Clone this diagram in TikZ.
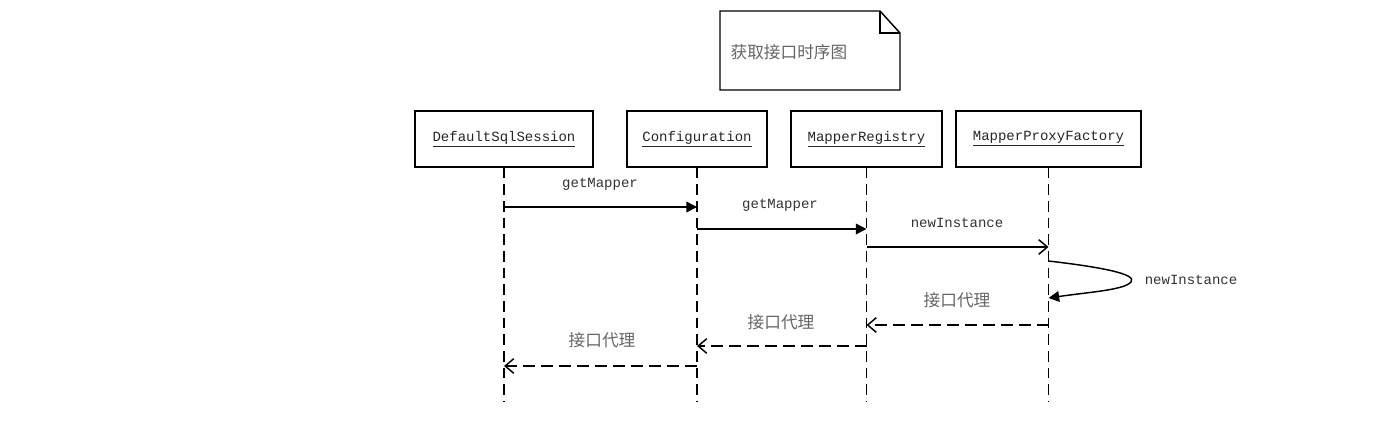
\documentclass[tikz,border=0pt]{standalone}
\usepackage{fontspec}
\setmonofont{Liberation Mono}
\newfontfamily\cjk{Noto Sans CJK SC}
\usetikzlibrary{arrows.meta}
\begin{document}
\begin{tikzpicture}[x=0.75pt,y=-0.75pt,
 obj/.style={draw, line width=1.1pt, minimum height=42pt, inner sep=0pt, font=\ttfamily\fontsize{10.5}{12}\selectfont, text=black!85},
 life/.style={line width=1.1pt, dash pattern=on 8pt off 4.5pt},
 call/.style={line width=1.1pt, -{Triangle[length=8pt,width=8pt]}},
 opencall/.style={line width=1.1pt, -{Straight Barb[length=6.5pt,width=11pt]}},
 ret/.style={line width=1.1pt, dash pattern=on 9pt off 4.5pt, -{Straight Barb[length=6.5pt,width=11pt,line width=1.1pt]}},
 lbl/.style={font=\ttfamily\fontsize{10.5}{12}\selectfont, text=black!80, inner sep=1pt},
 clbl/.style={font=\cjk\fontsize{12.5}{14}\selectfont, text=black!60, inner sep=1pt},
]
\useasboundingbox[fill=white] (0,0) rectangle (1400,425);

% note
\draw[line width=1.1pt] (720,11) -- (880,11) -- (900,33) -- (900,90) -- (720,90) -- cycle;
\draw[line width=1.1pt] (880,11) -- (880,33) -- (900,33);
\node[clbl, anchor=west] (note) at (729,52) {获取接口时序图};

% objects
\node[obj, minimum width=133.5pt] (ds) at (504,139) {\underline{DefaultSqlSession}};
\node[obj, minimum width=105pt] (cf) at (697,139) {\underline{Configuration}};
\node[obj, minimum width=113.25pt] (mr) at (866.5,139) {\underline{MapperRegistry}};
\node[obj, minimum width=138.75pt] (mpf) at (1048.5,139) {\underline{MapperProxyFactory}};

% lifeline ends
\path (0,402) coordinate (yb);
\foreach \n in {ds,cf,mr,mpf} {
  \draw[life] (\n.south) -- (\n.south |- yb);
}

% message levels
\path (0,207) coordinate (y1) (0,229) coordinate (y2) (0,247) coordinate (y3)
      (0,261) coordinate (y4a) (0,298) coordinate (y4b)
      (0,325) coordinate (y5) (0,346) coordinate (y6) (0,366) coordinate (y7);

\draw[call] (ds |- y1) -- (cf |- y1);
\node[lbl] (l1) at (600,184) {getMapper};

\draw[call] (cf |- y2) -- (mr |- y2);
\node[lbl] (l2) at (780,205) {getMapper};

\draw[opencall] (mr |- y3) -- (mpf |- y3);
\node[lbl] (l3) at (957,223) {newInstance};

\draw[call] (mpf |- y4a) .. controls (1100,267) and (1138,274) .. (1131,282)
  .. controls (1124,290) and (1090,292) .. (mpf |- y4b);
\node[lbl] (l4) at (1191,280) {newInstance};

\draw[ret] (mpf |- y5) -- (mr |- y5);
\node[clbl] (l5) at (957,300) {接口代理};

\draw[ret] (mr |- y6) -- (cf |- y6);
\node[clbl] (l6) at (781,322) {接口代理};

\draw[ret] (cf |- y7) -- (ds |- y7);
\node[clbl] (l7) at (602,340) {接口代理};
\end{tikzpicture}
\end{document}
